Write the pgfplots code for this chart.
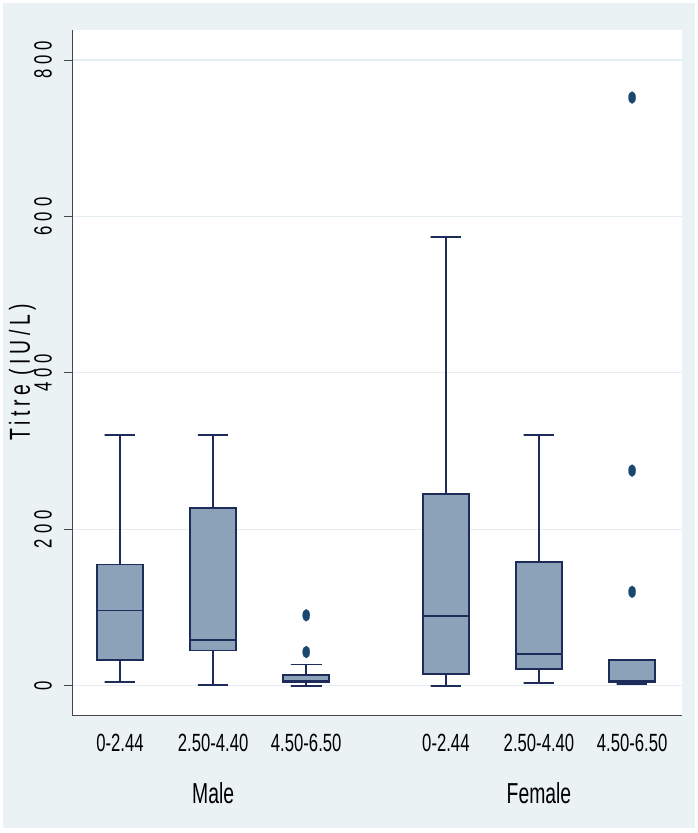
\documentclass[border=0pt]{standalone}
\usepackage{fontspec}
\setmainfont{Liberation Sans}[FakeStretch=0.67]
\newfontfamily\rotfont{Liberation Sans}[FakeStretch=0.67,LetterSpace=20]
\newfontfamily\ylfont{Liberation Sans}[FakeStretch=0.67,LetterSpace=15.5]
\usepackage{pgfplots}
\pgfplotsset{compat=1.18}
\definecolor{bgc}{RGB}{234,242,243}
\definecolor{boxfill}{RGB}{140,162,184}
\definecolor{boxline}{RGB}{30,44,90}
\definecolor{outl}{RGB}{26,71,111}
\definecolor{gridc}{RGB}{228,237,240}
\definecolor{axc}{RGB}{70,70,70}
\pgfdeclareplotmark{vell}{%
  \pgfpathellipse{\pgfpointorigin}{\pgfqpoint{3.6bp}{0pt}}{\pgfqpoint{0pt}{6bp}}%
  \pgfusepathqfillstroke}
\pgfplotsset{
  bx/.style={draw=boxline, fill=boxfill, line width=1.9bp, mark=none},
  wl/.style={draw=boxline, line width=1.8bp, mark=none},
  ol/.style={only marks, mark=vell, mark options={fill=outl, draw=outl, line width=0.2bp}},
}
\begin{document}
\begin{tikzpicture}
\useasboundingbox (-72bp,-118bp) rectangle (626bp,715bp);
\fill[white] (-72bp,-118bp) rectangle (626bp,715bp);
\fill[bgc] (-69bp,-113bp) rectangle (623bp,712bp);
\begin{axis}[
  at={(0,0)}, anchor=south west,
  scale only axis, width=610bp, height=685bp,
  xmin=0.4844, xmax=7.036, ymin=-37.5, ymax=838.4,
  clip=false,
  axis background/.style={fill=white},
  axis x line*=bottom, axis y line*=left,
  axis line style={axc, line width=0.9bp, -},
  xtick={1,2,3,4.5,5.5,6.5},
  xticklabels={0-2.44,2.50-4.40,4.50-6.50,0-2.44,2.50-4.40,4.50-6.50},
  ytick={0,200,400,600,800},
  yticklabels={0,200,400,600,800},
  tick align=outside, major tick length=8bp,
  tick style={axc, line width=0.9bp},
  xtick style={draw=none},
  ymajorgrids, grid style={gridc, line width=1.2bp},
  xticklabel style={font=\fontsize{25}{30}\selectfont, text=black, anchor=base, inner sep=0pt, yshift=-28bp},
  yticklabel style={font=\rotfont\fontsize{25}{30}\selectfont, text=black, rotate=90, anchor=center, inner sep=0pt, yshift=21bp},
  ylabel={Titre (IU/L)},
  ylabel style={font=\ylfont\fontsize{29}{34}\selectfont, text=black, at={(axis description cs:0,0.5)}, anchor=center, yshift=49.5bp},
]
% Box half width 0.245, cap half width 0.165
% ---- Male 0-2.44 at x=1: lw 5, q1 33, med 96, q3 155, uw 321
\addplot[wl] coordinates {(1,155) (1,321) (0.835,321) (1.165,321)};
\addplot[wl] coordinates {(1,33) (1,5) (0.835,5) (1.165,5)};
\addplot[bx] coordinates {(0.755,33) (1.245,33) (1.245,155) (0.755,155)} -- cycle;
\addplot[wl] coordinates {(0.755,96) (1.245,96)};
% ---- Male 2.50-4.40 at x=2: lw 1, q1 45, med 58, q3 227, uw 321
\addplot[wl] coordinates {(2,227) (2,321) (1.835,321) (2.165,321)};
\addplot[wl] coordinates {(2,45) (2,1) (1.835,1) (2.165,1)};
\addplot[bx] coordinates {(1.755,45) (2.245,45) (2.245,227) (1.755,227)} -- cycle;
\addplot[wl] coordinates {(1.755,58) (2.245,58)};
% ---- Male 4.50-6.50 at x=3: lw 0, q1 4, med 6, q3 14, uw 27; outliers 90, 43
\addplot[wl] coordinates {(3,14) (3,27) (2.835,27) (3.165,27)};
\addplot[wl] coordinates {(3,4) (3,0) (2.835,0) (3.165,0)};
\addplot[bx] coordinates {(2.755,4) (3.245,4) (3.245,14) (2.755,14)} -- cycle;
\addplot[wl] coordinates {(2.755,6) (3.245,6)};
\addplot[ol] coordinates {(3,90) (3,43)};
% ---- Female 0-2.44 at x=4.5: lw 0, q1 15, med 89, q3 245, uw 574
\addplot[wl] coordinates {(4.5,245) (4.5,574) (4.335,574) (4.665,574)};
\addplot[wl] coordinates {(4.5,15) (4.5,0) (4.335,0) (4.665,0)};
\addplot[bx] coordinates {(4.255,15) (4.745,15) (4.745,245) (4.255,245)} -- cycle;
\addplot[wl] coordinates {(4.255,89) (4.745,89)};
% ---- Female 2.50-4.40 at x=5.5: lw 3, q1 21, med 41, q3 158, uw 321
\addplot[wl] coordinates {(5.5,158) (5.5,321) (5.335,321) (5.665,321)};
\addplot[wl] coordinates {(5.5,21) (5.5,3) (5.335,3) (5.665,3)};
\addplot[bx] coordinates {(5.255,21) (5.745,21) (5.745,158) (5.255,158)} -- cycle;
\addplot[wl] coordinates {(5.255,41) (5.745,41)};
% ---- Female 4.50-6.50 at x=6.5: lw 2, q1 5, med 6, q3 33, uw 33; outliers 752, 275, 120
\addplot[wl] coordinates {(6.5,5) (6.5,2) (6.335,2) (6.665,2)};
\addplot[bx] coordinates {(6.255,5) (6.745,5) (6.745,33) (6.255,33)} -- cycle;
\addplot[wl] coordinates {(6.255,6) (6.745,6)};
\addplot[ol] coordinates {(6.5,752) (6.5,275) (6.5,120)};
\node[font=\fontsize{29}{34}\selectfont, anchor=base, yshift=-88bp] at (axis cs:2,-37.5) {Male};
\node[font=\fontsize{29}{34}\selectfont, anchor=base, yshift=-88bp] at (axis cs:5.5,-37.5) {Female};
\end{axis}
\end{tikzpicture}
\end{document}
